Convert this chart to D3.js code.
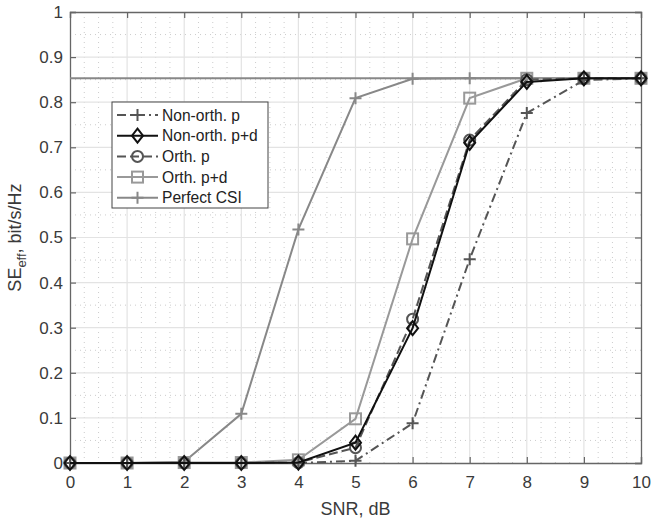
<!DOCTYPE html>
<html>
<head>
<meta charset="utf-8">
<script src="https://cdn.jsdelivr.net/npm/d3@7/dist/d3.min.js"></script>
<style>
  body { margin: 0; background: #fff; }
  text { font-family: "Liberation Sans", Arial, sans-serif; }
</style>
</head>
<body>
<div id="chart"></div>
<script>
// Data
const snr = [0, 1, 2, 3, 4, 5, 6, 7, 8, 9, 10];
const nonOrthP = [0, 0, 0, 0, 0, 0.005, 0.088, 0.452, 0.776, 0.849, 0.853];
const nonOrthPD = [0, 0, 0, 0, 0.001, 0.045, 0.299, 0.710, 0.845, 0.853, 0.853];
const orthP = [0, 0, 0, 0, 0.001, 0.034, 0.319, 0.716, 0.850, 0.853, 0.853];
const orthPD = [0, 0, 0.001, 0.001, 0.007, 0.098, 0.497, 0.809, 0.853, 0.853, 0.853];
const perfectCSI = [0, 0, 0.003, 0.109, 0.518, 0.809, 0.852, 0.853, 0.853, 0.853, 0.853];
const upperBound = 0.853;
const xTicks = [0, 1, 2, 3, 4, 5, 6, 7, 8, 9, 10];
const yTicks = [0, 0.1, 0.2, 0.3, 0.4, 0.5, 0.6, 0.7, 0.8, 0.9, 1];

const series = [
  { name: 'Non-orth. p', values: nonOrthP, color: '#555', width: 2, dash: '9,4,2,4', marker: 'plus' },
  { name: 'Non-orth. p+d', values: nonOrthPD, color: '#111', width: 2, dash: null, marker: 'diamond' },
  { name: 'Orth. p', values: orthP, color: '#555', width: 2, dash: '9,4', marker: 'circle' },
  { name: 'Orth. p+d', values: orthPD, color: '#999', width: 2, dash: null, marker: 'square' },
  { name: 'Perfect CSI', values: perfectCSI, color: '#888', width: 2, dash: null, marker: 'plus' }
];

const w = 652;
const h = 519;
const margin = { top: 12, right: 11, bottom: 56, left: 70 };

const x = d3.scaleLinear().domain([0, 10]).range([margin.left, w - margin.right]);
const y = d3.scaleLinear().domain([0, 1]).range([h - margin.bottom, margin.top]);

const svg = d3.select('#chart').append('svg')
  .attr('width', w)
  .attr('height', h);

// Minor grid
const grid = svg.append('g');
grid.selectAll('.mx')
  .data(d3.range(0, 10.001, 0.25).filter(v => Math.abs(v - Math.round(v)) > 1e-6))
  .join('line')
  .attr('x1', d => x(d)).attr('x2', d => x(d))
  .attr('y1', y(0)).attr('y2', y(1))
  .attr('stroke', '#ccc').attr('stroke-width', 1).attr('stroke-dasharray', '1,4');
grid.selectAll('.my')
  .data(d3.range(0, 1.0001, 0.05).filter(v => Math.abs(v * 10 - Math.round(v * 10)) > 1e-6))
  .join('line')
  .attr('y1', d => y(d)).attr('y2', d => y(d))
  .attr('x1', x(0)).attr('x2', x(10))
  .attr('stroke', '#ccc').attr('stroke-width', 1).attr('stroke-dasharray', '1,4');

// Major grid
grid.selectAll('.gx')
  .data(xTicks.slice(1, -1))
  .join('line')
  .attr('x1', d => x(d)).attr('x2', d => x(d))
  .attr('y1', y(0)).attr('y2', y(1))
  .attr('stroke', '#e3e3e3').attr('stroke-width', 1.2);
grid.selectAll('.gy')
  .data(yTicks.slice(1, -1))
  .join('line')
  .attr('y1', d => y(d)).attr('y2', d => y(d))
  .attr('x1', x(0)).attr('x2', x(10))
  .attr('stroke', '#e3e3e3').attr('stroke-width', 1.2);

// Axes (ticks inside, box style)
const axisColor = '#666';
const xAxis = d3.axisBottom(x).tickValues(xTicks).tickSize(-6).tickPadding(13).tickFormat(d3.format('d'));
const yAxis = d3.axisLeft(y).tickValues(yTicks).tickSize(-6).tickPadding(7).tickFormat(d => d === 0 || d === 1 ? d3.format('d')(d) : d3.format('.1f')(d));

svg.append('g').attr('transform', `translate(0, ${y(0)})`).call(xAxis);
svg.append('g').attr('transform', `translate(${x(0)}, 0)`).call(yAxis);
svg.append('g').attr('transform', `translate(0, ${y(1)})`)
  .call(d3.axisTop(x).tickValues(xTicks).tickSize(-6).tickFormat(''));
svg.append('g').attr('transform', `translate(${x(10)}, 0)`)
  .call(d3.axisRight(y).tickValues(yTicks).tickSize(-6).tickFormat(''));

svg.selectAll('.domain').attr('stroke', axisColor).attr('stroke-width', 1.3);
svg.selectAll('.tick line').attr('stroke', axisColor).attr('stroke-width', 1.2);
svg.selectAll('.tick text')
  .attr('fill', '#3a3a3a')
  .style('font-size', '17px')
  .style('font-family', '"Liberation Sans", Arial, sans-serif');

// Upper bound line
svg.append('line')
  .attr('x1', x(0)).attr('x2', x(10))
  .attr('y1', y(upperBound)).attr('y2', y(upperBound))
  .attr('stroke', '#888').attr('stroke-width', 2);

// Marker drawing
function drawMarker(g, type, cx, cy, color) {
  if (type === 'plus') {
    g.append('path')
      .attr('d', `M${cx - 6},${cy}H${cx + 6}M${cx},${cy - 6}V${cy + 6}`)
      .attr('stroke', color).attr('stroke-width', 2).attr('fill', 'none');
  } else if (type === 'circle') {
    g.append('circle').attr('cx', cx).attr('cy', cy).attr('r', 5.5)
      .attr('stroke', color).attr('stroke-width', 2).attr('fill', 'none');
  } else if (type === 'diamond') {
    g.append('path')
      .attr('d', `M${cx},${cy - 7}L${cx + 5.5},${cy}L${cx},${cy + 7}L${cx - 5.5},${cy}Z`)
      .attr('stroke', color).attr('stroke-width', 2).attr('fill', 'none');
  } else if (type === 'square') {
    g.append('rect').attr('x', cx - 5.5).attr('y', cy - 5.5).attr('width', 11).attr('height', 11)
      .attr('stroke', color).attr('stroke-width', 2).attr('fill', 'none');
  }
}

const line = d3.line().x((d, i) => x(snr[i])).y(d => y(d));

// Draw series (light ones first so dark curves sit on top)
const order = [4, 3, 0, 2, 1];
order.forEach(k => {
  const s = series[k];
  const g = svg.append('g');
  g.append('path')
    .datum(s.values)
    .attr('d', line)
    .attr('fill', 'none')
    .attr('stroke', s.color)
    .attr('stroke-width', s.width)
    .attr('stroke-dasharray', s.dash);
  s.values.forEach((v, i) => drawMarker(g, s.marker, x(snr[i]), y(v), s.color));
});

// Legend
const lg = svg.append('g').attr('transform', 'translate(112, 102)');
lg.append('rect')
  .attr('width', 156).attr('height', 106)
  .attr('fill', '#fff').attr('stroke', '#444').attr('stroke-width', 1);
series.forEach((s, i) => {
  const ly = 13 + i * 20.7;
  lg.append('line')
    .attr('x1', 5).attr('x2', 46).attr('y1', ly).attr('y2', ly)
    .attr('stroke', s.color).attr('stroke-width', s.width)
    .attr('stroke-dasharray', s.dash);
  drawMarker(lg, s.marker, 25.5, ly, s.color);
  lg.append('text')
    .attr('x', 50).attr('y', ly + 5.5)
    .attr('fill', '#222')
    .style('font-size', '15.6px')
    .text(s.name);
});

// Axis labels
svg.append('text')
  .attr('x', (x(0) + x(10)) / 2).attr('y', 515)
  .attr('text-anchor', 'middle')
  .attr('fill', '#3a3a3a')
  .style('font-size', '18px')
  .text('SNR, dB');

const yl = svg.append('text')
  .attr('transform', `translate(21, ${(y(0) + y(1)) / 2}) rotate(-90)`)
  .attr('text-anchor', 'middle')
  .attr('fill', '#3a3a3a')
  .style('font-size', '18px');
yl.append('tspan').text('SE');
yl.append('tspan').attr('dy', 5).style('font-size', '13px').text('eff');
yl.append('tspan').attr('dy', -5).text(', bit/s/Hz');
</script>
</body>
</html>
